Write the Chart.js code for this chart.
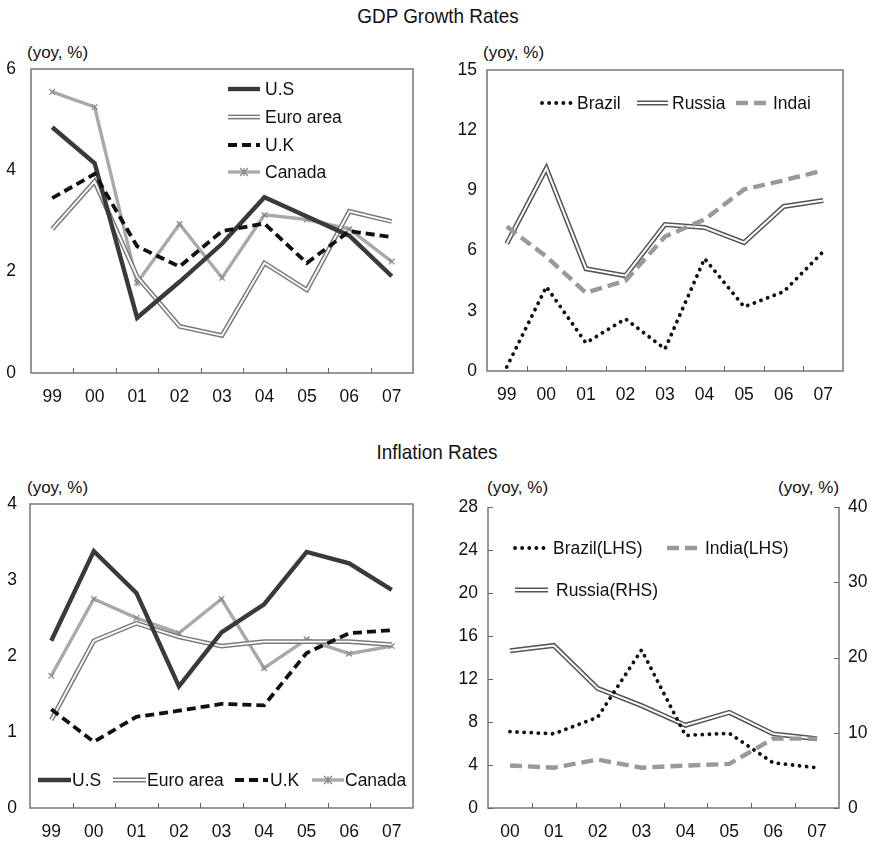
<!DOCTYPE html>
<html>
<head>
<meta charset="utf-8">
<script src="https://cdn.jsdelivr.net/npm/chart.js@4"></script>
<style>
  html, body { margin:0; padding:0; background:#fff; }
  body { width:872px; height:845px; position:relative; overflow:hidden; font-family:"Liberation Sans", Arial, sans-serif; color:#111; }
  canvas { position:absolute; }
  .title { position:absolute; font-size:21px; transform:translateX(-50%) scaleX(0.9); white-space:nowrap; }
  .unit { position:absolute; font-size:17px; white-space:nowrap; }
</style>
</head>
<body>
<div class="title" style="left:438px; top:4px;">GDP Growth Rates</div>
<div class="title" style="left:437px; top:440px;">Inflation Rates</div>
<div class="unit" style="left:27px; top:43px;">(yoy, %)</div>
<div class="unit" style="left:483px; top:43px;">(yoy, %)</div>
<div class="unit" style="left:27px; top:478px;">(yoy, %)</div>
<div class="unit" style="left:487px; top:478px;">(yoy, %)</div>
<div class="unit" style="left:778px; top:478px;">(yoy, %)</div>

<canvas id="c1" width="430" height="390" style="left:0;top:30px;"></canvas>
<canvas id="c2" width="442" height="390" style="left:430px;top:30px;"></canvas>
<canvas id="c3" width="430" height="405" style="left:0;top:440px;"></canvas>
<canvas id="c4" width="442" height="405" style="left:430px;top:440px;"></canvas>

<script>
// ---------------- DATA ----------------
const years = ['99','00','01','02','03','04','05','06','07'];
const years2 = ['00','01','02','03','04','05','06','07'];

// GDP growth, advanced
const usGdp     = [4.85, 4.14, 1.09, 1.80, 2.55, 3.47, 3.09, 2.71, 1.91];
const euroGdp   = [2.84, 3.78, 1.90, 0.92, 0.74, 2.17, 1.64, 3.19, 2.99];
const ukGdp     = [3.45, 3.93, 2.50, 2.10, 2.80, 2.95, 2.17, 2.80, 2.68];
const canadaGdp = [5.55, 5.25, 1.78, 2.94, 1.88, 3.12, 3.03, 2.84, 2.20];

// GDP growth, BRICs
const brazilGdp = [0.2, 4.2, 1.4, 2.6, 1.1, 5.6, 3.2, 3.95, 5.95];
const russiaGdp = [6.35, 10.1, 5.1, 4.75, 7.3, 7.15, 6.4, 8.2, 8.5];
const indiaGdp  = [7.2, 5.7, 3.9, 4.5, 6.7, 7.55, 9.05, 9.5, 10.0];

// Inflation, advanced
const usCpi     = [2.20, 3.38, 2.83, 1.60, 2.31, 2.68, 3.37, 3.22, 2.87];
const euroCpi   = [1.16, 2.20, 2.43, 2.25, 2.13, 2.19, 2.19, 2.19, 2.15];
const ukCpi     = [1.30, 0.87, 1.20, 1.28, 1.37, 1.35, 2.04, 2.30, 2.34];
const canadaCpi = [1.74, 2.75, 2.50, 2.30, 2.75, 1.84, 2.22, 2.03, 2.13];

// Inflation, BRICs
const brazilCpi = [7.1, 6.9, 8.45, 14.7, 6.75, 6.95, 4.2, 3.75];   // LHS
const indiaCpi  = [3.95, 3.75, 4.5, 3.75, 3.95, 4.1, 6.45, 6.45];   // LHS
const russiaCpi = [20.9, 21.6, 15.9, 13.6, 11.0, 12.7, 9.85, 9.2]; // RHS

// ---------------- STYLES ----------------
const FONT = '"Liberation Sans", Arial, sans-serif';
const S = {
  us:     [{c:'#3a3a3a', w:4.4}],
  euro:   [{c:'#7a7a7a', w:4.8}, {c:'#ffffff', w:1.8}],
  uk:     [{c:'#111111', w:3.8, dash:[9,5]}],
  canada: [{c:'#a9a9a9', w:3.4}],
  brazil: [{c:'#111111', w:3.8, dash:[0.1,7], cap:'round'}],
  russia: [{c:'#555555', w:5}, {c:'#ffffff', w:2}],
  india:  [{c:'#999999', w:4.4, dash:[12,6]}]
};

function ds(data, style, order, extra) {
  return style.map((st, i) => Object.assign({
    data: data,
    borderColor: st.c,
    borderWidth: st.w,
    borderDash: st.dash || [],
    borderCapStyle: st.cap || 'butt',
    borderJoinStyle: 'miter',
    tension: 0,
    pointRadius: 0,
    fill: false,
    order: order - i * 0.1
  }, extra || {}));
}

const decorPlugin = {
  id: 'decor',
  afterDatasetsDraw(chart, args, opts) {
    const ctx = chart.ctx;
    const a = chart.chartArea;
    ctx.save();
    ctx.strokeStyle = '#777';
    ctx.lineWidth = 1.5;
    ctx.setLineDash([]);
    ctx.beginPath();
    if (opts.box) {
      ctx.rect(a.left, a.top, a.right - a.left, a.bottom - a.top);
    } else {
      ctx.moveTo(a.left, a.top); ctx.lineTo(a.left, a.bottom);
      ctx.lineTo(a.right, a.bottom); ctx.lineTo(a.right, a.top);
    }
    ctx.stroke();
    // x ticks at category boundaries, pointing inside
    const xs = chart.scales.x;
    const n = chart.data.labels.length;
    ctx.lineWidth = 1;
    ctx.strokeStyle = '#666';
    ctx.beginPath();
    for (let i = 0; i < n - 1; i++) {
      const x = Math.round((xs.getPixelForValue(i) + xs.getPixelForValue(i + 1)) / 2) + 0.5;
      ctx.moveTo(x, a.bottom); ctx.lineTo(x, a.bottom - 5);
    }
    // y ticks inside
    (opts.yTicks || []).forEach(id => {
      const sc = chart.scales[id];
      sc.ticks.forEach(t => {
        const y = Math.round(sc.getPixelForValue(t.value)) + 0.5;
        if (id === 'y') { ctx.moveTo(a.left, y); ctx.lineTo(a.left + 5, y); }
        else { ctx.moveTo(a.right, y); ctx.lineTo(a.right - 5, y); }
      });
    });
    ctx.stroke();
    // legend
    (opts.legend || []).forEach(it => {
      it.style.forEach(st => {
        ctx.beginPath();
        ctx.strokeStyle = st.c;
        ctx.lineWidth = st.w;
        ctx.setLineDash(st.dash || []);
        ctx.lineCap = st.cap || 'butt';
        ctx.moveTo(it.x1, it.y); ctx.lineTo(it.x2, it.y);
        ctx.stroke();
      });
      ctx.setLineDash([]);
      ctx.lineCap = 'butt';
      if (it.marker) {
        drawStar(ctx, (it.x1 + it.x2) / 2, it.y, 4);
      }
      ctx.fillStyle = '#111';
      ctx.font = '17.5px ' + FONT;
      ctx.textBaseline = 'middle';
      ctx.textAlign = 'left';
      ctx.fillText(it.label, it.tx, it.y + 1);
    });
    ctx.restore();
  }
};
function drawStar(ctx, x, y, r) {
  ctx.save();
  ctx.strokeStyle = '#888';
  ctx.lineWidth = 1.2;
  ctx.beginPath();
  ctx.moveTo(x - r, y - r); ctx.lineTo(x + r, y + r);
  ctx.moveTo(x - r, y + r); ctx.lineTo(x + r, y - r);
  ctx.moveTo(x, y - r); ctx.lineTo(x, y + r);
  ctx.stroke();
  ctx.restore();
}

function xScale(padding) {
  return {
    type: 'category', offset: true,
    grid: { display: false, drawTicks: false }, border: { display: false },
    ticks: { color: '#111', font: { size: 17.5, family: FONT }, padding: padding, maxRotation: 0, autoSkip: false }
  };
}
function yScale(min, max, step, width, padding, pos) {
  return {
    type: 'linear', position: pos || 'left', min: min, max: max,
    afterFit(s) { s.width = width; },
    grid: { display: false, drawTicks: false }, border: { display: false },
    ticks: { stepSize: step, color: '#111', font: { size: 17.5, family: FONT }, padding: padding }
  };
}
function baseOptions(pad, xHeight, scales, decor) {
  scales.x.afterFit = s => { s.height = xHeight; };
  return {
    responsive: false, animation: false,
    layout: { padding: pad },
    scales: scales,
    plugins: { legend: { display: false }, tooltip: { enabled: false }, decor: decor }
  };
}
const canadaMarkers = { pointRadius: 4, pointStyle: 'crossRot', pointBorderColor: '#888', pointBorderWidth: 1.2, pointBackgroundColor: '#888' };

// ---------------- Chart 1: GDP advanced ----------------
new Chart(document.getElementById('c1'), {
  type: 'line',
  data: { labels: years, datasets: [
    ...ds(canadaGdp, S.canada, 6, canadaMarkers),
    ...ds(euroGdp, S.euro, 5),
    ...ds(usGdp, S.us, 3),
    ...ds(ukGdp, S.uk, 2)
  ]},
  options: baseOptions({ top: 39, right: 17, left: 0, bottom: 0 }, 47,
    { x: xScale(14), y: yScale(0, 6, 2, 31, 15) },
    { box: true, legend: [
      { label: 'U.S', style: S.us, x1: 228, x2: 260, tx: 265, y: 59 },
      { label: 'Euro area', style: S.euro, x1: 228, x2: 260, tx: 265, y: 87 },
      { label: 'U.K', style: S.uk, x1: 228, x2: 260, tx: 265, y: 115 },
      { label: 'Canada', style: S.canada, x1: 228, x2: 260, tx: 265, y: 142, marker: true }
    ]}),
  plugins: [decorPlugin]
});

// ---------------- Chart 2: GDP BRICs ----------------
new Chart(document.getElementById('c2'), {
  type: 'line',
  data: { labels: years, datasets: [
    ...ds(russiaGdp, S.russia, 6),
    ...ds(indiaGdp, S.india, 4),
    ...ds(brazilGdp, S.brazil, 2)
  ]},
  options: baseOptions({ top: 40, right: 29, left: 0, bottom: 0 }, 49,
    { x: xScale(14), y: yScale(0, 15, 3, 57, 10) },
    { box: true, legend: [
      { label: 'Brazil', style: S.brazil, x1: 112, x2: 143, tx: 147, y: 73 },
      { label: 'Russia', style: S.russia, x1: 207, x2: 238, tx: 242, y: 73 },
      { label: 'Indai', style: S.india, x1: 306, x2: 340, tx: 343, y: 73 }
    ]}),
  plugins: [decorPlugin]
});

// ---------------- Chart 3: Inflation advanced ----------------
new Chart(document.getElementById('c3'), {
  type: 'line',
  data: { labels: years, datasets: [
    ...ds(canadaCpi, S.canada, 6, canadaMarkers),
    ...ds(euroCpi, S.euro, 5),
    ...ds(ukCpi, S.uk, 3),
    ...ds(usCpi, S.us, 2)
  ]},
  options: baseOptions({ top: 64, right: 17, left: 0, bottom: 0 }, 37,
    { x: xScale(14), y: yScale(0, 4, 1, 30, 13) },
    { box: true, legend: [
      { label: 'U.S', style: S.us, x1: 38, x2: 71, tx: 72, y: 340 },
      { label: 'Euro area', style: S.euro, x1: 113, x2: 146, tx: 147, y: 340 },
      { label: 'U.K', style: S.uk, x1: 235, x2: 268, tx: 270, y: 340 },
      { label: 'Canada', style: S.canada, x1: 312, x2: 344, tx: 345, y: 340, marker: true }
    ]}),
  plugins: [decorPlugin]
});

// ---------------- Chart 4: Inflation BRICs ----------------
new Chart(document.getElementById('c4'), {
  type: 'line',
  data: { labels: years2, datasets: [
    ...ds(russiaCpi, S.russia, 6, { yAxisID: 'y2' }),
    ...ds(indiaCpi, S.india, 4),
    ...ds(brazilCpi, S.brazil, 2)
  ]},
  options: baseOptions({ top: 67, right: 0, left: 0, bottom: 0 }, 37,
    { x: xScale(14), y: yScale(0, 28, 4, 58, 10), y2: yScale(0, 40, 10, 33, 9, 'right') },
    { box: false, yTicks: ['y', 'y2'], legend: [
      { label: 'Brazil(LHS)', style: S.brazil, x1: 85, x2: 117, tx: 123, y: 108 },
      { label: 'India(LHS)', style: S.india, x1: 237, x2: 267, tx: 275, y: 108 },
      { label: 'Russia(RHS)', style: S.russia, x1: 85, x2: 118, tx: 126, y: 150 }
    ]}),
  plugins: [decorPlugin]
});
</script>
</body>
</html>
